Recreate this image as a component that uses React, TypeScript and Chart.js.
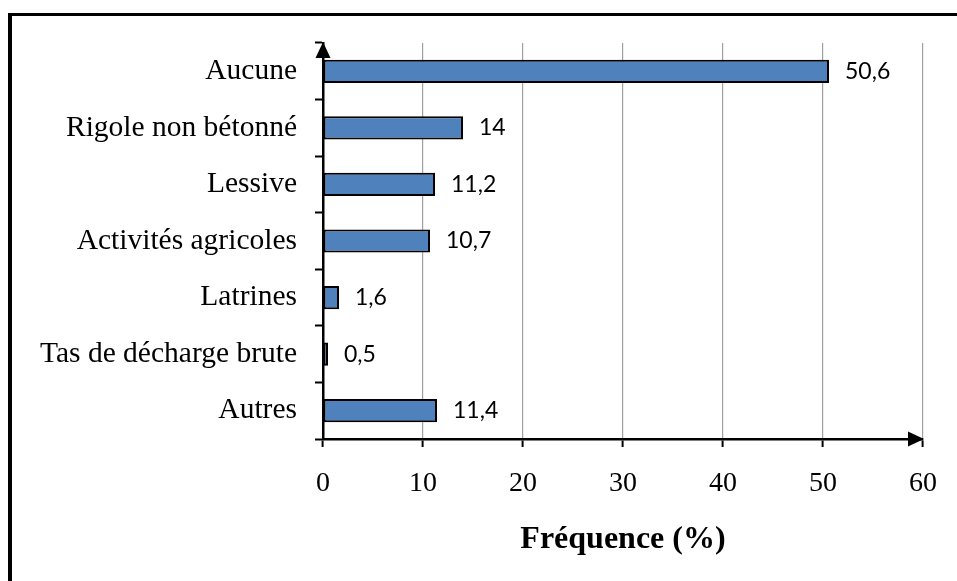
import React, { useEffect, useRef } from "react";
import { Chart, registerables } from "chart.js";

Chart.register(...registerables);

const categories = [
  "Aucune",
  "Rigole non bétonné",
  "Lessive",
  "Activités agricoles",
  "Latrines",
  "Tas de décharge brute",
  "Autres",
];
const frequencies = [50.6, 14, 11.2, 10.7, 1.6, 0.5, 11.4];
const valueLabels = ["50,6", "14", "11,2", "10,7", "1,6", "0,5", "11,4"];
const xMin = 0;
const xMax = 60;
const xStep = 10;
const xTitle = "Fréquence (%)";

const SERIF = "'Liberation Serif', 'Times New Roman', serif";
const SANS = "Lato, 'Noto Sans', sans-serif";

const valueLabelPlugin = {
  id: "valueLabels",
  afterDatasetsDraw(chart: any) {
    const ctx = chart.ctx;
    const meta = chart.getDatasetMeta(0);
    ctx.save();
    ctx.font = `23px ${SANS}`;
    ctx.fillStyle = "#000";
    ctx.textAlign = "left";
    ctx.textBaseline = "middle";
    meta.data.forEach((el: any, i: number) => {
      ctx.fillText(valueLabels[i], el.x + 16, el.y);
    });
    ctx.restore();
  },
};

const arrowPlugin = {
  id: "axisArrows",
  afterDraw(chart: any) {
    const { ctx, chartArea } = chart;
    const { left, right, top, bottom } = chartArea;
    ctx.save();
    ctx.fillStyle = "#000";
    // y-axis arrow (up)
    ctx.beginPath();
    ctx.moveTo(left, top - 1);
    ctx.lineTo(left - 7.5, top + 15);
    ctx.lineTo(left + 7.5, top + 15);
    ctx.closePath();
    ctx.fill();
    // x-axis arrow (right)
    ctx.beginPath();
    ctx.moveTo(right + 1, bottom);
    ctx.lineTo(right - 15, bottom - 7.5);
    ctx.lineTo(right - 15, bottom + 7.5);
    ctx.closePath();
    ctx.fill();
    ctx.restore();
  },
};

function BarChart() {
  const canvasRef = useRef<HTMLCanvasElement | null>(null);

  useEffect(() => {
    if (!canvasRef.current) return;
    const chart = new Chart(canvasRef.current, {
      type: "bar",
      data: {
        labels: categories,
        datasets: [
          {
            data: frequencies,
            backgroundColor: "#4F81BD",
            borderColor: "#000000",
            borderWidth: 2,
            borderSkipped: false,
            barPercentage: 0.41,
            categoryPercentage: 1,
          },
        ],
      },
      options: {
        indexAxis: "y",
        responsive: false,
        animation: false,
        devicePixelRatio: 1,
        layout: { padding: { left: 0, right: 30, top: 43, bottom: 22 } },
        plugins: {
          legend: { display: false },
          tooltip: { enabled: false },
          title: { display: false },
        },
        scales: {
          x: {
            type: "linear",
            min: xMin,
            max: xMax,
            afterFit: (scale: any) => {
              scale.height = 120;
            },
            ticks: {
              stepSize: xStep,
              padding: 20,
              color: "#000",
              font: { family: SERIF, size: 28 },
              maxRotation: 0,
            },
            grid: {
              color: (c: any) =>
                c.tick && c.tick.value === 0 ? "rgba(0,0,0,0)" : "#a0a0a0",
              lineWidth: 1.2,
              tickColor: "#000",
              tickLength: 8,
              tickWidth: 2,
              drawTicks: true,
            },
            border: { display: true, color: "#000", width: 2.5, z: 1 },
            title: {
              display: true,
              text: xTitle,
              color: "#000",
              font: { family: SERIF, size: 32, weight: "bold" },
              padding: { top: 0, bottom: 0 },
            },
          },
          y: {
            type: "category",
            afterFit: (scale: any) => {
              scale.width = 323;
            },
            ticks: {
              padding: 18,
              color: "#000",
              font: { family: SERIF, size: 29.5 },
            },
            grid: {
              offset: true,
              drawOnChartArea: false,
              drawTicks: true,
              tickLength: 8,
              tickColor: "#000",
              tickWidth: 2,
              color: "#000",
            },
            border: { display: true, color: "#000", width: 2.5, z: 1 },
          },
        },
      },
      plugins: [valueLabelPlugin, arrowPlugin],
    } as any);
    return () => chart.destroy();
  }, []);

  return (
    <canvas
      ref={canvasRef}
      width={957}
      height={581}
      style={{ position: "absolute", left: 0, top: 0, width: 957, height: 581 }}
    />
  );
}

export default function App() {
  return (
    <div
      style={{
        position: "fixed",
        left: 0,
        top: 0,
        width: 957,
        height: 581,
        overflow: "hidden",
        background: "#fff",
      }}
    >
      <div
        style={{
          position: "absolute",
          left: 8,
          top: 13,
          width: 2000,
          height: 2000,
          borderLeft: "4px solid #000",
          borderTop: "3px solid #000",
        }}
      />
      <BarChart />
    </div>
  );
}
